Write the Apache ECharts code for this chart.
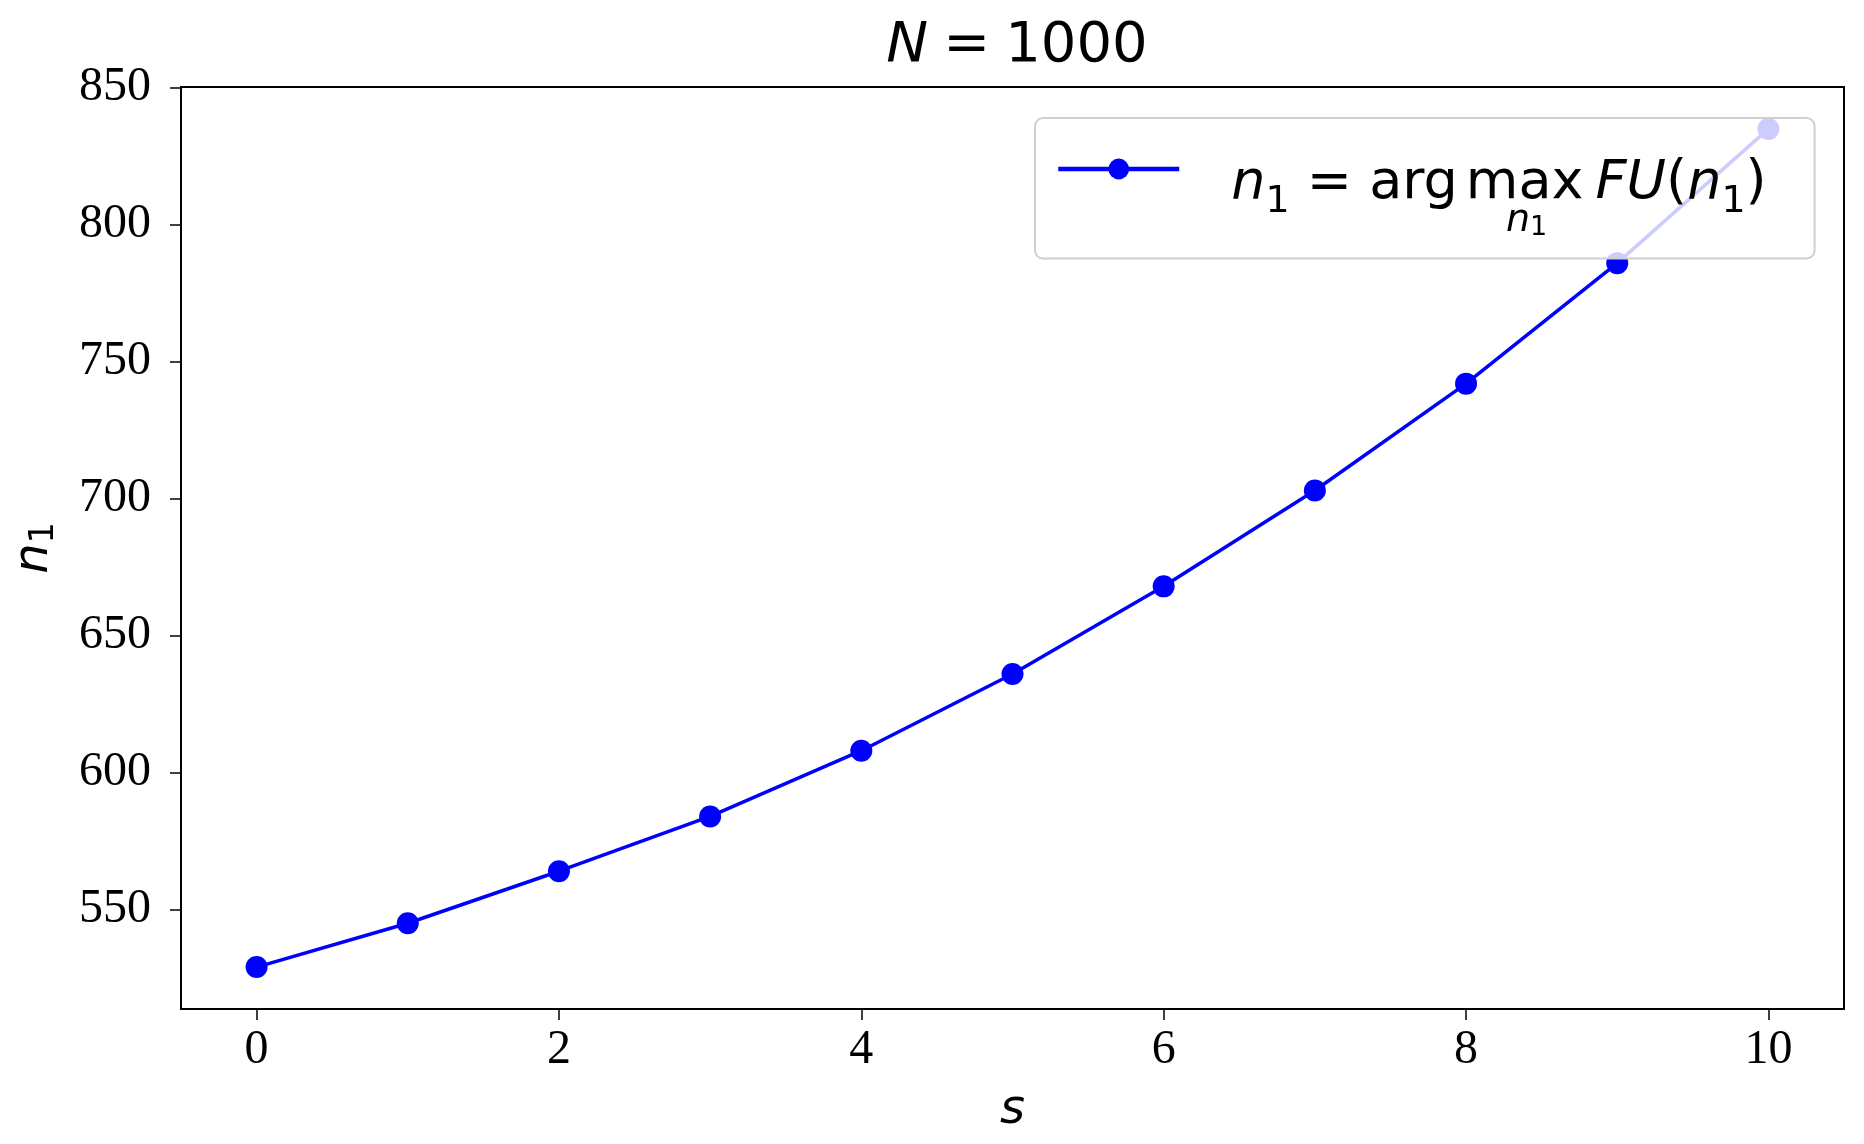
<!DOCTYPE html>
<html>
<head>
<meta charset="utf-8">
<script src="https://cdn.jsdelivr.net/npm/echarts@6/dist/echarts.min.js"></script>
<style>html,body{margin:0;padding:0;background:#fff;}#main{width:1864px;height:1144px;}</style>
</head>
<body>
<div id="main"></div>
<script>
// ---- data ----
var sValues = [0, 1, 2, 3, 4, 5, 6, 7, 8, 9, 10];
var n1Values = [529, 545, 564, 584, 608, 636, 668, 703, 742, 786, 835];
var xTicks = [0, 2, 4, 6, 8, 10];
var yTicks = [550, 600, 650, 700, 750, 800, 850];
var seriesName = 'n1 = argmax FU(n1)';

var MATH = "'DejaVu Sans', sans-serif";
var SERIF = "'Liberation Serif', 'Times New Roman', serif";
var BLUE = '#0000ff';

// matplotlib-like 5% margins
function pad(arr) {
  var mn = Math.min.apply(null, arr), mx = Math.max.apply(null, arr);
  var r = mx - mn;
  return [mn - 0.05 * r, mx + 0.05 * r];
}
var xr = pad(sValues), yr = pad(n1Values);

var chart = echarts.init(document.getElementById('main'), null, {renderer: 'canvas'});

var LF = 54;   // legend font size
var LS = 38;   // legend subscript size
var LH = 90;   // legend line box
var legendRich = {
  gap: {width: 47, height: 60, lineHeight: LH, verticalAlign: 'bottom'},
  th: {width: 8, height: 60, lineHeight: LH, verticalAlign: 'bottom'},
  op: {width: 12, height: 60, lineHeight: LH, verticalAlign: 'bottom'},
  i: {fontFamily: MATH, fontStyle: 'italic', fontSize: LF, color: '#000', height: 60, lineHeight: LH, verticalAlign: 'bottom'},
  r: {fontFamily: MATH, fontSize: LF, color: '#000', height: 60, lineHeight: LH, verticalAlign: 'bottom'},
  sub: {fontFamily: MATH, fontSize: LS, color: '#000', height: 23, lineHeight: LH, verticalAlign: 'bottom'}
};

var option = {
  backgroundColor: '#ffffff',
  animation: false,
  title: {
    text: '{i|N}{g|}{r|=}{g|}{r|1000}',
    left: 1012,
    textAlign: 'center',
    top: 13,
    textStyle: {
      fontWeight: 'normal',
      rich: {
        i: {fontFamily: MATH, fontStyle: 'italic', fontWeight: 'normal', fontSize: 56, color: '#000'},
        r: {fontFamily: MATH, fontWeight: 'normal', fontSize: 56, color: '#000'},
        g: {width: 15}
      }
    }
  },
  grid: {
    left: 181, right: 20, top: 87, bottom: 135,
    show: true, borderColor: '#000', borderWidth: 2, backgroundColor: 'transparent'
  },
  legend: {
    data: [seriesName],
    left: 1035,
    top: 118,
    padding: [36, 48, 37, 21],
    backgroundColor: 'rgba(255,255,255,0.8)',
    borderColor: '#d0d0d0',
    borderWidth: 2,
    borderRadius: 8,
    itemWidth: 121,
    itemHeight: 26,
    lineStyle: {width: 4.5, color: BLUE},
    itemStyle: {color: BLUE},
    z: 10,
    formatter: function () {
      return '{gap|}{i|n}{sub|1}{r| = arg}{th|}{r|max}{op|}{i|FU}{r|(}{i|n}{sub|1}{r|)}';
    },
    textStyle: {rich: legendRich}
  },
  graphic: [{
    type: 'text',
    left: 1506,
    top: 202,
    z: 100,
    style: {
      text: '{i|n}{sub|1}',
      rich: {
        i: {fontFamily: MATH, fontStyle: 'italic', fontSize: 38, fill: '#000', lineHeight: 40},
        sub: {fontFamily: MATH, fontSize: 27, fill: '#000', lineHeight: 40, verticalAlign: 'bottom'}
      }
    }
  }],
  xAxis: {
    type: 'value',
    min: xr[0], max: xr[1],
    name: 's',
    nameLocation: 'middle',
    nameGap: 78,
    nameTextStyle: {fontFamily: MATH, fontStyle: 'italic', fontSize: 48, color: '#000'},
    axisLine: {show: true, onZero: false, lineStyle: {color: '#000', width: 2}},
    axisTick: {show: true, inside: false, length: 11, lineStyle: {color: '#000', width: 1.5}, customValues: xTicks},
    axisLabel: {show: true, margin: 17, fontFamily: SERIF, fontSize: 48, color: '#000', customValues: xTicks},
    splitLine: {show: false}
  },
  yAxis: {
    type: 'value',
    min: yr[0], max: yr[1],
    name: '{i|n}{sub|1}',
    nameLocation: 'middle',
    nameGap: 120,
    nameTextStyle: {
      rich: {
        i: {fontFamily: MATH, fontStyle: 'italic', fontSize: 48, color: '#000', lineHeight: 52},
        sub: {fontFamily: MATH, fontSize: 33, color: '#000', lineHeight: 52, verticalAlign: 'bottom'}
      }
    },
    axisLine: {show: true, onZero: false, lineStyle: {color: '#000', width: 2}},
    axisTick: {show: true, inside: false, length: 11, lineStyle: {color: '#000', width: 1.5}, customValues: yTicks},
    axisLabel: {show: true, margin: 30, fontFamily: SERIF, fontSize: 48, color: '#000', customValues: yTicks},
    splitLine: {show: false}
  },
  series: [{
    name: seriesName,
    type: 'line',
    data: sValues.map(function (s, i) { return [s, n1Values[i]]; }),
    symbol: 'circle',
    symbolSize: 22,
    showSymbol: true,
    color: BLUE,
    itemStyle: {color: BLUE},
    lineStyle: {color: BLUE, width: 3.5},
    z: 2
  }]
};
chart.setOption(option);
</script>
</body>
</html>
